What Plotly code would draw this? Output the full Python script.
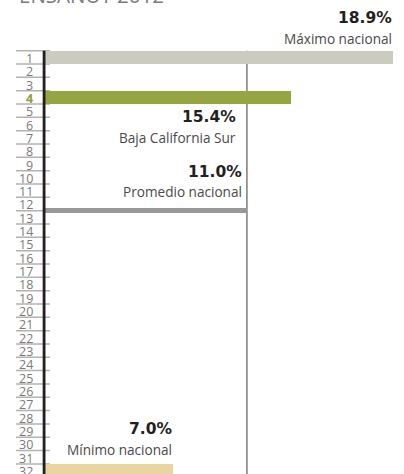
import plotly.graph_objects as go

# ---- data ----
title_text = "ENSANUT 2012"
row_numbers = list(range(1, 33))
highlight_row = 4
bar_rows = [1, 4, 12.5, 32]
bar_values = [18.9, 13.4, 11.0, 7.0]
bar_thickness = [1, 1, 0.42, 1]
bar_colors = ["#cbccbf", "#95a541", "#98989a", "#ead49f"]
pct_labels = ["18.9%", "15.4%", "11.0%", "7.0%"]
name_labels = ["Máximo nacional", "Baja California Sur", "Promedio nacional", "Mínimo nacional"]
promedio_nacional = 11.0

W, H = 404, 474
ML = 43
plot_w = W - ML
px_per_unit = 18.54
x_max = plot_w / px_per_unit
row_h = 13.33
row0 = 44.03  # pixel centre offset

def row_of(pix):
    return (pix - row0) / row_h

fig = go.Figure()
fig.add_trace(go.Bar(
    y=bar_rows, x=bar_values, orientation="h", width=bar_thickness,
    marker=dict(color=bar_colors, line=dict(width=0)), hoverinfo="skip",
))

shapes = []
shapes.append(dict(type="line", xref="x", yref="y", x0=promedio_nacional, x1=promedio_nacional,
                   y0=0.5, y1=33, line=dict(color="#3a3a3a", width=1), layer="below"))
for k in range(0, 32):
    shapes.append(dict(type="line", xref="paper", yref="y",
                       x0=(16 - ML) / plot_w, x1=(50 - ML) / plot_w,
                       y0=k + 0.5, y1=k + 0.5,
                       line=dict(color="#b2b2b2", width=1.5), layer="below"))
shapes.append(dict(type="line", xref="paper", yref="y", x0=0.003, x1=0.003,
                   y0=0.5, y1=33, line=dict(color="#231f20", width=2.8), layer="above"))

annotations = []
for r in row_numbers:
    if r == highlight_row:
        txt, col = "<b>%d</b>" % r, "#8fa03a"
    else:
        txt, col = str(r), "#7a7a7a"
    annotations.append(dict(x=(35 - ML) / plot_w, xref="paper", y=r, yref="y",
                            text=txt, showarrow=False, xanchor="right", yanchor="middle",
                            yshift=-1, font=dict(family="Open Sans", size=12.5, color=col)))

pct_pos = [(18.9, 0, row_of(18)), (11.0, -10, row_of(117)), (11.0, -4, row_of(172)), (7.0, 0, row_of(429))]
name_pos = [(18.9, 0, row_of(38)), (11.0, -10, row_of(137)), (11.0, -4, row_of(191)), (7.0, 0, row_of(449))]
for i in range(4):
    x, xs, y = pct_pos[i]
    annotations.append(dict(x=x, xref="x", y=y, yref="y", text="<b>%s</b>" % pct_labels[i],
                            showarrow=False, xanchor="right", yanchor="middle", xshift=xs + 1,
                            font=dict(family="DejaVu Sans", size=15.5, color="#231f20")))
    x, xs, y = name_pos[i]
    annotations.append(dict(x=x, xref="x", y=y, yref="y", text=name_labels[i],
                            showarrow=False, xanchor="right", yanchor="middle", xshift=xs + 1,
                            font=dict(family="Open Sans", size=13.6, color="#4a4a4a")))

annotations.append(dict(x=(17 - ML) / plot_w, xref="paper", y=1 + 5.0 / H, yref="paper",
                        text=title_text, showarrow=False, xanchor="left", yanchor="middle",
                        font=dict(family="Open Sans", size=20.5, color="#7a7a7a")))

fig.update_layout(
    width=W, height=H,
    margin=dict(l=ML, r=0, t=0, b=0),
    paper_bgcolor="white", plot_bgcolor="white",
    showlegend=False, bargap=0,
    xaxis=dict(range=[0, x_max], visible=False, fixedrange=True),
    yaxis=dict(range=[row_of(H), row_of(0)], visible=False, fixedrange=True),
    shapes=shapes, annotations=annotations,
)
fig.write_html("out.html", config={"displayModeBar": False},
               post_script="document.body.style.margin='0';document.body.style.padding='0';")
